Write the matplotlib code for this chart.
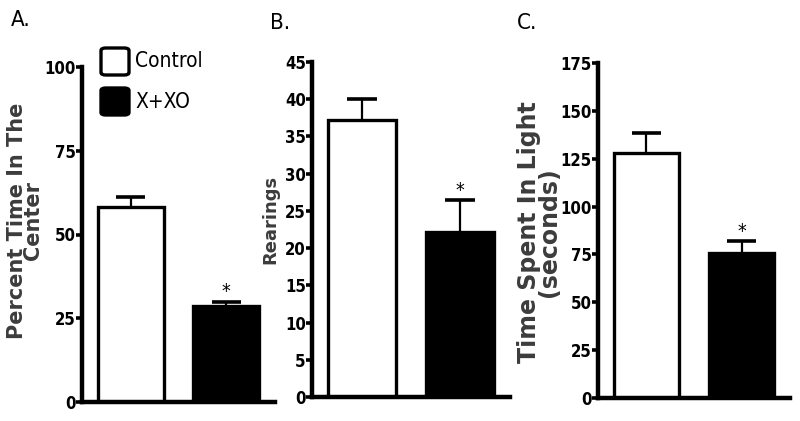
import matplotlib
matplotlib.use("Agg")
import matplotlib.pyplot as plt
from matplotlib import font_manager
from matplotlib.patches import FancyBboxPatch

HAS_COND = any("DejaVuSansCondensed" in f.fname for f in font_manager.fontManager.ttflist)
NARROW = dict(family="DejaVu Sans", stretch="condensed") if HAS_COND else dict(family="Liberation Sans")

groups = ["Control", "X+XO"]
pct_center = [58.3, 28.7]
pct_center_err = [2.8, 1.3]
rearings = [37.2, 22.2]
rearings_err = [2.8, 4.2]
time_light = [127.8, 75.6]
time_light_err = [10.5, 6.4]
ylims = [100, 45, 175]
yticks = [[0, 25, 50, 75, 100],
          [0, 5, 10, 15, 20, 25, 30, 35, 40, 45],
          [0, 25, 50, 75, 100, 125, 150, 175]]

W, H = 800, 421
fig = plt.figure(figsize=(8, 4.21), dpi=100)

def fx(px):
    return px / W

def fy(py):
    return 1 - py / H

rects = [(82, 67, 275, 402), (312, 62, 510, 397), (598, 63, 790, 398)]
data = [(pct_center, pct_center_err), (rearings, rearings_err), (time_light, time_light_err)]
x = [0, 1]
for (l, t, r, b), (vals, errs), ymax, yt in zip(rects, data, ylims, yticks):
    ax = fig.add_axes([fx(l), fy(b), fx(r - l), (b - t) / H])
    ax.bar(x, vals, width=0.69, color=["white", "black"], edgecolor="black",
           linewidth=2.4, zorder=2)
    tops = [v + e for v, e in zip(vals, errs)]
    ax.vlines(x, vals, tops, color="black", linewidth=1.6, zorder=3)
    ax.hlines(tops, [xi - 0.15 for xi in x], [xi + 0.15 for xi in x],
              color="black", linewidth=2.6, zorder=3)
    ax.annotate("*", (x[1], tops[1]), xytext=(0, 7), textcoords="offset points",
                ha="center", va="center", fontsize=14, **NARROW)
    ax.set_xlim(-0.51, 1.51)
    ax.set_ylim(0, ymax)
    ax.set_yticks(yt)
    ax.set_xticks([])
    for s in ["top", "right"]:
        ax.spines[s].set_visible(False)
    for s in ["left", "bottom"]:
        ax.spines[s].set_linewidth(3.2)
    ax.tick_params(axis="y", direction="out", length=4, width=2.6, pad=0.5)
    for lab in ax.get_yticklabels():
        lab.set_fontproperties(font_manager.FontProperties(size=12, weight="semibold", **NARROW))

# panel letters
for txt, px, py in [("A.", 21, 20), ("B.", 280, 23), ("C.", 527, 23)]:
    fig.text(fx(px), fy(py), txt, ha="center", va="center", fontsize=16, **NARROW)

# y labels
fig.text(fx(25), fy(221), "Percent Time In The\nCenter", rotation=90, ha="center",
         va="center", multialignment="center", fontsize=15, weight="bold",
         color="#3c3c3c", family="DejaVu Sans", linespacing=0.72)
fig.text(fx(270), fy(219), "Rearings", rotation=90, ha="center", va="center",
         fontsize=13, weight="bold", color="#3c3c3c", family="DejaVu Sans")
fig.text(fx(539), fy(232), "Time Spent In Light\n(seconds)", rotation=90, ha="center",
         va="center", multialignment="center", fontsize=17, weight="bold",
         color="#3c3c3c", family="DejaVu Sans", linespacing=0.82)

# legend
for (py0, py1), fc, label in [((48, 75), "white", groups[0]), ((88, 115), "black", groups[1])]:
    box = FancyBboxPatch((fx(101), fy(py1)), fx(28), (py1 - py0) / H,
                         boxstyle="round,pad=0,rounding_size=0.006",
                         transform=fig.transFigure, facecolor=fc, edgecolor="black",
                         linewidth=2.4)
    fig.patches.append(box)
    fig.text(fx(135), fy((py0 + py1) / 2), label, ha="left", va="center",
             fontsize=15, **NARROW)

fig.savefig("out.png", dpi=100)
